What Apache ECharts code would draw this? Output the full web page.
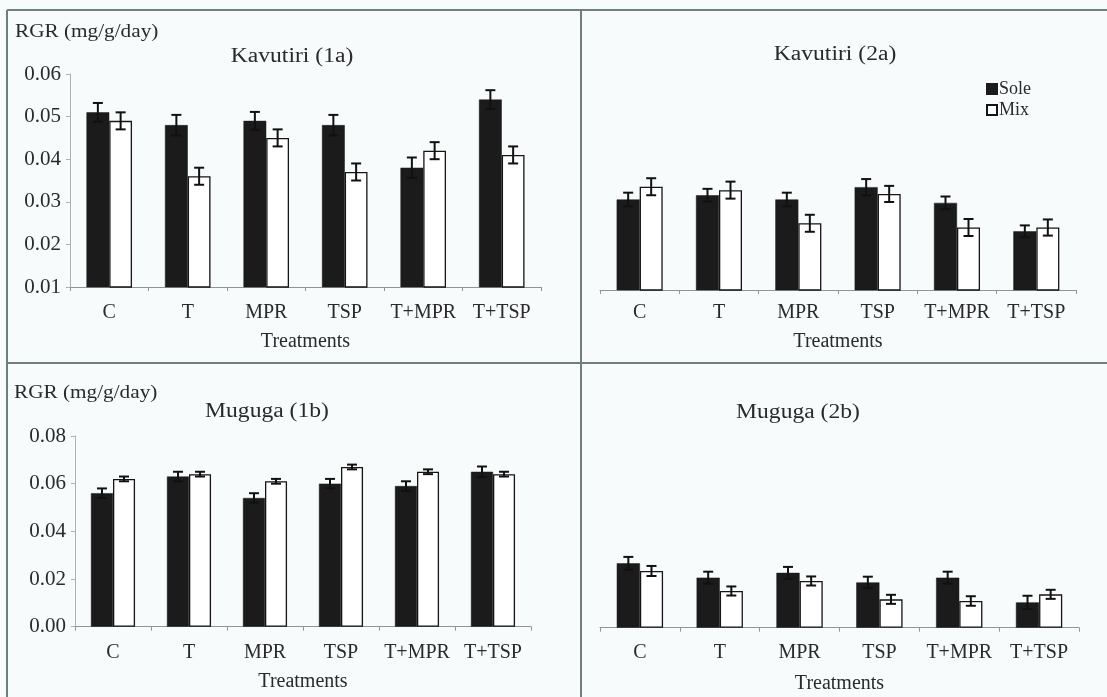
<!DOCTYPE html>
<html>
<head>
<meta charset="utf-8">
<title>RGR by treatment</title>
<script src="https://cdn.jsdelivr.net/npm/echarts@6/dist/echarts.min.js"></script>
<style>
  html, body { margin: 0; padding: 0; background: #f7fbfb; }
  #chart { width: 1107px; height: 697px; }
</style>
</head>
<body>
<div id="chart"></div>
<script>
// Treatments on every x axis
const categories = ['C', 'T', 'MPR', 'TSP', 'T+MPR', 'T+TSP'];

// Kavutiri (1a)
const kavutiri1aSole = [0.051, 0.048, 0.049, 0.048, 0.038, 0.054];
const kavutiri1aMix = [0.049, 0.036, 0.045, 0.037, 0.042, 0.041];
const kavutiri1aSoleErr = [0.0022, 0.0024, 0.0021, 0.0024, 0.0024, 0.0022];
const kavutiri1aMixErr = [0.002, 0.002, 0.002, 0.002, 0.002, 0.002];

// Kavutiri (2a)
const kavutiri2aSole = [0.0313, 0.0323, 0.0313, 0.0342, 0.0305, 0.0238];
const kavutiri2aMix = [0.0343, 0.0335, 0.0257, 0.0326, 0.0247, 0.0247];
const kavutiri2aSoleErr = [0.0016, 0.0015, 0.0016, 0.0019, 0.0015, 0.0014];
const kavutiri2aMixErr = [0.002, 0.002, 0.002, 0.0019, 0.002, 0.0019];

// Muguga (1b)
const muguga1bSole = [0.056, 0.063, 0.054, 0.060, 0.059, 0.065];
const muguga1bMix = [0.062, 0.064, 0.061, 0.067, 0.065, 0.064];
const muguga1bSoleErr = [0.002, 0.002, 0.002, 0.002, 0.002, 0.0022];
const muguga1bMixErr = [0.001, 0.001, 0.001, 0.001, 0.001, 0.001];

// Muguga (2b)
const muguga2bSole = [0.027, 0.021, 0.023, 0.019, 0.021, 0.0106];
const muguga2bMix = [0.0238, 0.0154, 0.0196, 0.0119, 0.0112, 0.014];
const muguga2bSoleErr = [0.0027, 0.0025, 0.0025, 0.0024, 0.0025, 0.0028];
const muguga2bMixErr = [0.0021, 0.0019, 0.0019, 0.0019, 0.002, 0.0019];

// Y-axis tick values
const ticksKavutiri = [0.01, 0.02, 0.03, 0.04, 0.05, 0.06];
const ticksMuguga = [0.00, 0.02, 0.04, 0.06, 0.08];

const FONT = 'Liberation Serif';
const INK = '#2a2a2a';
const AXIS = '#8a9698';
const CAT_GAP = 0.42;
const WIDE = 1.18; // horizontal stretch of the free-standing captions

const panels = [
  { title: 'Kavutiri (1a)', sole: kavutiri1aSole, mix: kavutiri1aMix, soleErr: kavutiri1aSoleErr, mixErr: kavutiri1aMixErr,
    ticks: ticksKavutiri, grid: { left: 70, top: 74, width: 471, height: 213 }, showY: true,
    labelMargin: 16, nameGap: 45 },
  { title: 'Kavutiri (2a)', sole: kavutiri2aSole, mix: kavutiri2aMix, soleErr: kavutiri2aSoleErr, mixErr: kavutiri2aMixErr,
    ticks: ticksKavutiri, grid: { left: 600, top: 77.5, width: 476, height: 212.5 }, showY: false,
    labelMargin: 13, nameGap: 42 },
  { title: 'Muguga (1b)', sole: muguga1bSole, mix: muguga1bMix, soleErr: muguga1bSoleErr, mixErr: muguga1bMixErr,
    ticks: ticksMuguga, grid: { left: 75, top: 436, width: 456, height: 190.7 }, showY: true,
    labelMargin: 16, nameGap: 45 },
  { title: 'Muguga (2b)', sole: muguga2bSole, mix: muguga2bMix, soleErr: muguga2bSoleErr, mixErr: muguga2bMixErr,
    ticks: ticksMuguga, grid: { left: 600, top: 437, width: 479, height: 190.7 }, showY: false,
    labelMargin: 15, nameGap: 46 }
];

// Error bar drawn at the centre of the sole (left) or mix (right) bar
function errorBarRenderer(side) {
  return function (params, api) {
    const idx = api.value(0);
    const val = api.value(1);
    const err = api.value(2);
    const band = api.size([1, 0])[0];
    const bw = band * (1 - CAT_GAP) / 2;
    const off = side === 'sole' ? -bw / 2 : bw / 2;
    const hi = api.coord([idx, val + err]);
    const lo = api.coord([idx, val - err]);
    const x = hi[0] + off;
    const cap = 5;
    const style = { stroke: '#111', lineWidth: 2 };
    return {
      type: 'group',
      children: [
        { type: 'line', shape: { x1: x, y1: hi[1], x2: x, y2: lo[1] }, style: style },
        { type: 'line', shape: { x1: x - cap, y1: hi[1], x2: x + cap, y2: hi[1] }, style: style },
        { type: 'line', shape: { x1: x - cap, y1: lo[1], x2: x + cap, y2: lo[1] }, style: style }
      ]
    };
  };
}

const grids = [], xAxes = [], yAxes = [], series = [];
panels.forEach(function (p, i) {
  grids.push(Object.assign({ containLabel: false }, p.grid));
  xAxes.push({
    type: 'category', gridIndex: i, data: categories,
    name: 'Treatments', nameLocation: 'middle', nameGap: p.nameGap,
    nameTextStyle: { fontFamily: FONT, fontSize: 20, color: INK },
    axisLine: { lineStyle: { color: AXIS, width: 1 } },
    axisTick: { show: true, alignWithLabel: false, length: 4, lineStyle: { color: AXIS } },
    axisLabel: { interval: 0, margin: p.labelMargin, fontFamily: FONT, fontSize: 20, color: INK },
    splitLine: { show: false }
  });
  const tk = p.ticks;
  yAxes.push({
    type: 'value', gridIndex: i,
    min: tk[0], max: tk[tk.length - 1], interval: tk[1] - tk[0],
    show: p.showY,
    axisLine: { show: true, lineStyle: { color: '#a8b4b8', width: 1 } },
    axisTick: { show: true, length: 4, lineStyle: { color: '#a8b4b8' } },
    axisLabel: { margin: 9, fontFamily: FONT, fontSize: 21, color: INK,
      formatter: function (v) { return v.toFixed(2); } },
    splitLine: { show: false }
  });
  series.push({
    name: 'Sole', type: 'bar', xAxisIndex: i, yAxisIndex: i, data: p.sole,
    barGap: '0%', barCategoryGap: (CAT_GAP * 100) + '%',
    itemStyle: { color: '#1b1b1b', borderColor: '#1b1b1b', borderWidth: 0.5 }
  });
  series.push({
    name: 'Mix', type: 'bar', xAxisIndex: i, yAxisIndex: i, data: p.mix,
    barGap: '0%', barCategoryGap: (CAT_GAP * 100) + '%',
    itemStyle: { color: '#ffffff', borderColor: '#151515', borderWidth: 1.3 }
  });
  series.push({
    name: 'Sole error', type: 'custom', xAxisIndex: i, yAxisIndex: i, z: 5,
    renderItem: errorBarRenderer('sole'),
    encode: { x: 0, y: 1 },
    data: p.sole.map(function (v, k) { return [k, v, p.soleErr[k]]; })
  });
  series.push({
    name: 'Mix error', type: 'custom', xAxisIndex: i, yAxisIndex: i, z: 5,
    renderItem: errorBarRenderer('mix'),
    encode: { x: 0, y: 1 },
    data: p.mix.map(function (v, k) { return [k, v, p.mixErr[k]]; })
  });
});

function label(text, x, y, size, align) {
  return {
    type: 'text', x: x, y: y, scaleX: WIDE, silent: true,
    style: { text: text, fill: INK, font: size + 'px "' + FONT + '"',
      align: align, verticalAlign: 'middle', textAlign: align, textVerticalAlign: 'middle' }
  };
}
function rule(x1, y1, x2, y2) {
  return { type: 'line', silent: true, shape: { x1: x1, y1: y1, x2: x2, y2: y2 },
    style: { stroke: '#6f7f80', lineWidth: 2 } };
}

const chart = echarts.init(document.getElementById('chart'), null, { renderer: 'canvas' });
chart.setOption({
  backgroundColor: '#f7fbfb',
  animation: false,
  textStyle: { fontFamily: FONT },
  grid: grids,
  xAxis: xAxes,
  yAxis: yAxes,
  legend: {
    data: ['Sole', 'Mix'], orient: 'vertical', left: 986, top: 80,
    icon: 'rect', itemWidth: 10, itemHeight: 10, itemGap: 3,
    padding: 0,
    textStyle: { fontFamily: FONT, fontSize: 18, color: INK, padding: [0, 0, 0, -3] }
  },
  graphic: [
    rule(7, 10, 1107, 10),
    rule(7, 363, 1107, 363),
    rule(7, 10, 7, 697),
    rule(581, 10, 581, 697),
    label('RGR (mg/g/day)', 15, 32, 18, 'left'),
    label('Kavutiri (1a)', 292, 57, 20, 'center'),
    label('Kavutiri (2a)', 835, 55, 20, 'center'),
    label('RGR (mg/g/day)', 14, 393, 18, 'left'),
    label('Muguga (1b)', 267, 412, 20, 'center'),
    label('Muguga (2b)', 798, 413, 20, 'center')
  ],
  series: series
});
</script>
</body>
</html>
